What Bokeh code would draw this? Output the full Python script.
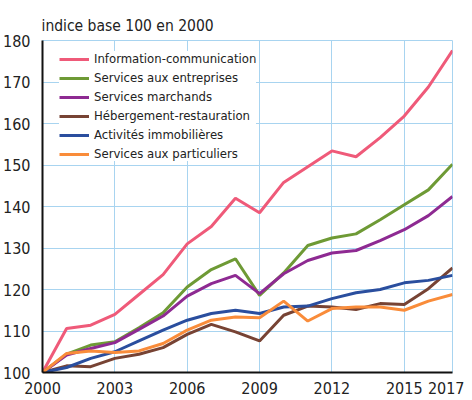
from bokeh.plotting import figure
from bokeh.models import ColumnDataSource, FixedTicker, Legend, LegendItem, Range1d
from bokeh.embed import file_html
from bokeh.resources import INLINE

years = list(range(2000, 2018))
info_comm = [100, 110.6, 111.4, 114.0, 118.8, 123.6, 131.0, 135.2, 142.0, 138.5,
             145.8, 149.6, 153.4, 152.0, 156.6, 161.8, 168.8, 177.6]
serv_entreprises = [100, 104.4, 106.6, 107.4, 110.8, 114.4, 120.6, 124.8, 127.4, 118.6,
                    124.0, 130.6, 132.4, 133.4, 136.8, 140.4, 144.0, 150.2]
serv_marchands = [100, 104.2, 105.8, 107.2, 110.4, 113.6, 118.4, 121.4, 123.4, 119.0,
                  123.8, 127.0, 128.8, 129.4, 131.8, 134.4, 137.8, 142.4]
hebergement = [100, 101.6, 101.4, 103.4, 104.4, 106.0, 109.2, 111.6, 109.8, 107.6,
               113.8, 116.0, 115.8, 115.2, 116.6, 116.4, 120.2, 125.2]
immobilier = [100, 101.2, 103.4, 105.0, 107.6, 110.2, 112.6, 114.2, 115.0, 114.2,
              115.8, 116.0, 117.8, 119.2, 120.0, 121.6, 122.2, 123.4]
serv_particuliers = [100, 104.6, 105.2, 104.8, 105.2, 107.0, 110.2, 112.6, 113.4, 113.2,
                     117.2, 112.4, 115.4, 115.8, 115.8, 115.0, 117.2, 118.8]

series_names = ["Information-communication", "Services aux entreprises", "Services marchands",
                "Hébergement-restauration", "Activités immobilières", "Services aux particuliers"]
series_values = [info_comm, serv_entreprises, serv_marchands, hebergement, immobilier, serv_particuliers]
colors = ["#EF5A79", "#6E9A35", "#8E2A92", "#774334", "#2A4E9E", "#F98C3A"]

x_ticks = [2000, 2003, 2006, 2009, 2012, 2015, 2017]
y_ticks = [100, 110, 120, 130, 140, 150, 160, 170, 180]

FONT = "'DejaVu Sans Condensed', 'Roboto Condensed', Roboto, sans-serif"

p = figure(width=464, height=396, output_backend="svg", toolbar_location=None,
           x_range=Range1d(2000, 2017), y_range=Range1d(100, 180),
           min_border_left=42, min_border_right=12, min_border_top=40, min_border_bottom=23,
           title="indice base 100 en 2000")
p.title.text_font = FONT
p.title.text_font_size = "15.5px"
p.title.text_font_style = "normal"
p.title.text_color = "#222222"
p.title.align = "left"
p.title.offset = -1
p.title.standoff = 12

p.outline_line_color = "#A8D4F0"
p.outline_line_width = 1
p.background_fill_color = "white"
p.border_fill_color = "white"

p.xaxis.ticker = FixedTicker(ticks=x_ticks)
p.yaxis.ticker = FixedTicker(ticks=y_ticks)
for ax in (p.xaxis[0], p.yaxis[0]):
    ax.axis_line_color = "#111111"
    ax.axis_line_width = 2
    ax.major_tick_line_color = None
    ax.minor_tick_line_color = None
    ax.major_label_text_font = FONT
    ax.major_label_text_font_size = "16px"
    ax.major_label_text_color = "#222222"
p.xaxis.major_label_standoff = 3
p.yaxis.major_label_standoff = 6

p.xgrid.ticker = FixedTicker(ticks=x_ticks)
p.ygrid.ticker = FixedTicker(ticks=y_ticks)
p.grid.grid_line_color = "#A8D4F0"
p.grid.grid_line_width = 1

items = []
for name, vals, col in zip(series_names, series_values, colors):
    src = ColumnDataSource(dict(x=years, y=vals))
    r = p.line("x", "y", source=src, line_color=col, line_width=3)
    items.append(LegendItem(label=name, renderers=[r]))

legend = Legend(items=items, location=(17, 211))
legend.label_text_font = FONT
legend.label_text_font_size = "13px"
legend.label_text_color = "#222222"
legend.glyph_width = 30
legend.glyph_height = 14
legend.label_height = 14
legend.spacing = 4
legend.padding = 3
legend.margin = 0
legend.label_standoff = 5
legend.border_line_color = None
legend.background_fill_color = "white"
legend.background_fill_alpha = 1.0
p.add_layout(legend)

open("out.html", "w").write(file_html(p, INLINE))
